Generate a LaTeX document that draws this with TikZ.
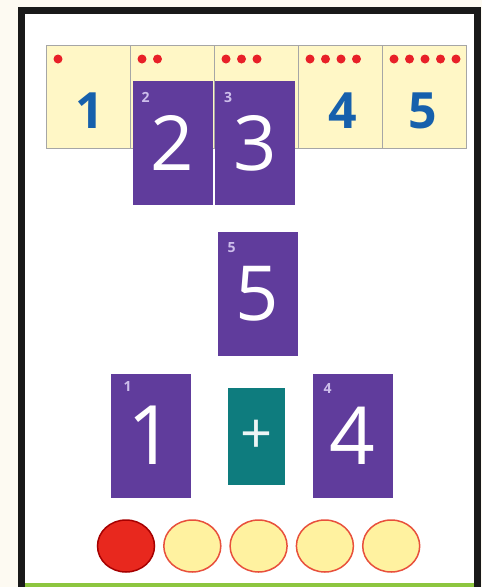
\documentclass[tikz,border=0pt]{standalone}
\usepackage{fontspec}
\setmainfont{Open Sans}
\usepackage{tikz}
\usepackage{xcolor}
\usetikzlibrary{shapes.geometric}

\definecolor{cream}{RGB}{253,250,242}
\definecolor{cardyellow}{RGB}{255,247,198}
\definecolor{dotred}{RGB}{232,32,40}
\definecolor{numblue}{RGB}{22,96,172}
\definecolor{cardpurple}{RGB}{96,60,156}
\definecolor{lilac}{RGB}{205,190,235}
\definecolor{signteal}{RGB}{14,124,126}
\definecolor{chipred}{RGB}{232,40,30}
\definecolor{chipyellow}{RGB}{255,242,160}
\definecolor{chiprim}{RGB}{232,80,60}
\definecolor{rulegreen}{RGB}{141,198,63}

\begin{document}
\begin{tikzpicture}[x=1pt, y=-1pt,
  numcard/.style={draw=gray!70, line width=0.8pt, fill=cardyellow, minimum width=84pt, minimum height=103pt, inner sep=0pt},
  bluenum/.style={text=numblue, inner sep=0pt, font=\fontsize{50}{50}\selectfont\bfseries},
  digitcard/.style={fill=cardpurple, minimum width=80pt, minimum height=124pt, inner sep=0pt, text=white, font=\fontsize{76}{76}\selectfont},
  corner/.style={anchor=north west, text=lilac, inner sep=0pt, font=\fontsize{14}{14}\selectfont\bfseries},
  signcard/.style={fill=signteal, minimum width=57pt, minimum height=97pt, inner sep=0pt, text=white!92!signteal, font=\fontsize{56}{56}\selectfont},
  chip/.style={ellipse, minimum width=57pt, minimum height=52pt, inner sep=0pt, line width=1.5pt}]
  \useasboundingbox (0,0) rectangle (482,587);
  % Bakgrunn og ramme
  \fill[cream] (0,0) rectangle (482,587);
  \fill[white] (21,10) rectangle (477,587);
  \draw[line width=7pt, black!90] (21.5,595) -- (21.5,10) -- (477,10) -- (477,595);
  \draw[rulegreen, line width=4pt] (25,585) -- (473.5,585);
  % Tallstripe 1--5
  \foreach \i in {1,...,5} {
    \node[numcard] (num\i) at ({88+84*(\i-1)}, 96.5) {};
    \foreach \j in {1,...,\i}
      \fill[dotred] ({46+84*(\i-1)+12+15.5*(\j-1)}, 59) circle (4.5);
  }
  \node[bluenum] (b1) at (90,111) {1};
  \node[bluenum] (b4) at (343,111) {4};
  \node[bluenum] (b5) at (423,111) {5};
  % Sifferkort over stripa
  \node[digitcard] (d2) at (172.5,143) {2};
  \node[digitcard] (d3) at (255,143) {3};
  \node[corner] at ([xshift=9pt, yshift=-11pt]d2.north west) {2};
  \node[corner] at ([xshift=9pt, yshift=-11pt]d3.north west) {3};
  % Sum
  \node[digitcard] (d5) at (257.5,293.5) {5};
  \node[corner] at ([xshift=10pt, yshift=-11pt]d5.north west) {5};
  % Ledd: 1 + 4
  \node[digitcard, font=\fontsize{82}{82}\selectfont] (d1) at (150.5,435.5) {1};
  \node[signcard] (plus) at (256.5,436.5) {+};
  \node[digitcard, font=\fontsize{80}{80}\selectfont] (d4) at (352.5,435.5) {4};
  \node[corner] at ([xshift=13pt, yshift=-8pt]d1.north west) {1};
  \node[corner] at ([xshift=11pt, yshift=-10pt]d4.north west) {4};
  % Tellebrikker
  \node[chip, fill=chipred, draw=red!65!black] (c1) at (126,546) {};
  \foreach \i in {2,...,5}
    \node[chip, fill=chipyellow, draw=chiprim] (c\i) at ({126+66.3*(\i-1)}, 546) {};
\end{tikzpicture}
\end{document}
